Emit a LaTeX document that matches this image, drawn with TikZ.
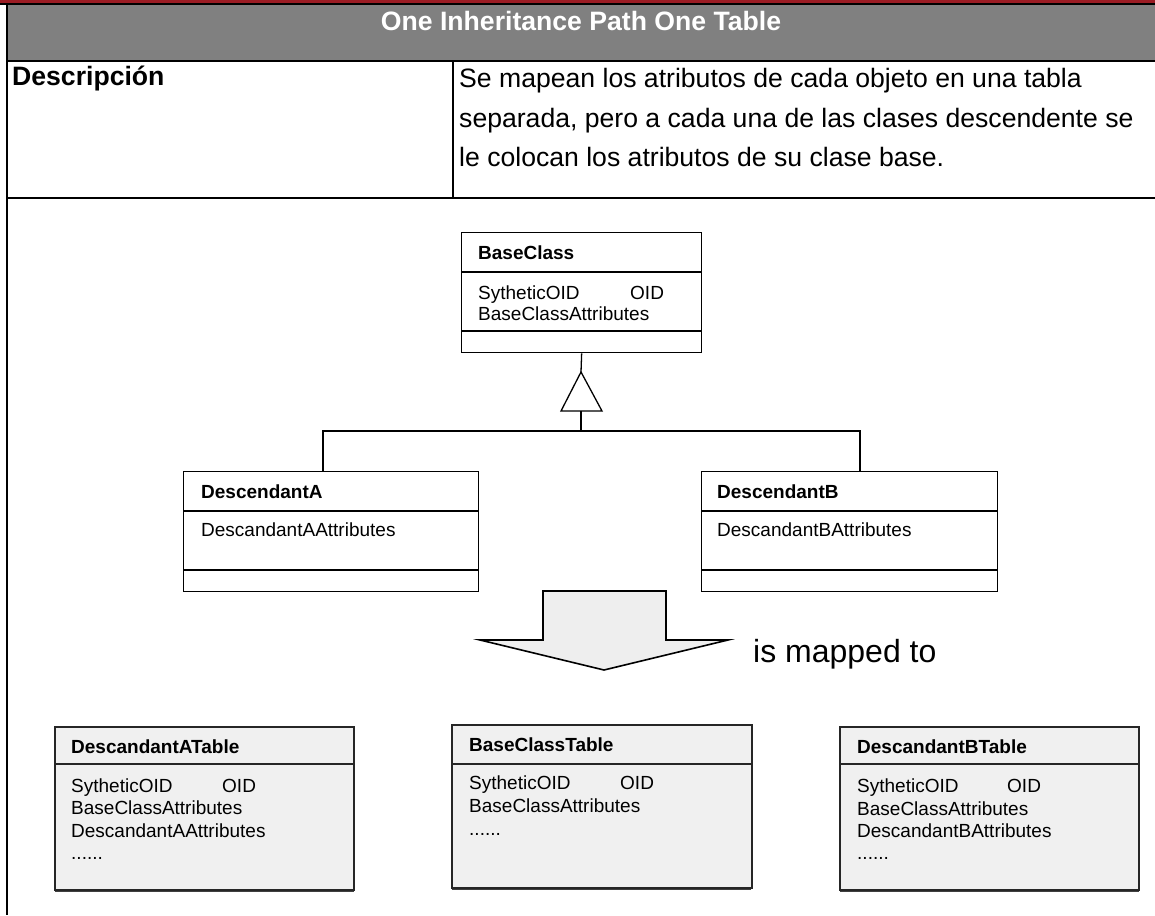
\documentclass[tikz,border=0pt]{standalone}
\usepackage{fontspec}
\setmainfont{Liberation Sans}
\definecolor{bandred}{HTML}{9B1C24}
\definecolor{headgray}{HTML}{808080}
\definecolor{tablegray}{HTML}{F0F0F0}
\definecolor{arrowgray}{HTML}{EEEEEE}
\begin{document}
\begin{tikzpicture}[x=1pt,y=-1pt,
  frame/.style={line width=2pt,black},
  umlbox/.style={draw=black,line width=1.3pt,fill=white,inner sep=0pt,anchor=north west},
  tablebox/.style={draw=black!85,line width=1.5pt,fill=tablegray,inner sep=0pt,anchor=north west},
  sep/.style={line width=1.3pt,black},
  link/.style={line width=1.3pt,black},
  lbl/.style={anchor=base west,inner sep=0pt,font=\fontsize{19}{22}\selectfont},
  hdr/.style={anchor=base west,inner sep=0pt,font=\fontsize{19}{22}\selectfont\bfseries},
  body/.style={anchor=base west,inner sep=0pt,font=\fontsize{26.6}{38}\selectfont}]
\useasboundingbox (0,0) rectangle (1155,915);

% ---- document table frame ----
\fill[bandred] (0,0) rectangle (1155,4.5);
\fill[headgray] (7,5) rectangle (1155,60);
\draw[frame] (0,4.5) -- (1155,4.5);
\draw[frame] (7,4.5) -- (7,915);
\draw[frame] (7,61) -- (1155,61);
\draw[frame] (7,198) -- (1155,198);
\draw[line width=1.6pt] (453,61) -- (453,198);

\node[anchor=base,inner sep=0pt,text=white,font=\fontsize{26.6}{30}\selectfont\bfseries] (title) at (581,31) {One Inheritance Path One Table};
\node[body,font=\fontsize{26.6}{38}\selectfont\bfseries] (desc) at (12,86) {Descripción};
\node[body] (d1) at (459,88) {Se mapean los atributos de cada objeto en una tabla};
\node[body] (d2) at (459,127) {separada, pero a cada una de las clases descendente se};
\node[body] (d3) at (459,166) {le colocan los atributos de su clase base.};

% ---- class diagram ----
\node[umlbox,minimum width=240,minimum height=120] (base) at (461,232) {};
\draw[sep] (461,272) -- (701,272);
\draw[sep] (461,331) -- (701,331);
\node[hdr] (baseT) at (478,259) {BaseClass};
\node[lbl] (baseA1) at (478,299) {SytheticOID};
\node[lbl] (baseA2) at (630,299) {OID};
\node[lbl] (baseA3) at (478,320) {BaseClassAttributes};

\node[umlbox,minimum width=295,minimum height=120] (descA) at (183,471) {};
\draw[sep] (183,511) -- (478,511);
\draw[sep] (183,570) -- (478,570);
\node[hdr] (descAT) at (201,498) {DescendantA};
\node[lbl] (descAA) at (201,536) {DescandantAAttributes};

\node[umlbox,minimum width=296,minimum height=120] (descB) at (701,471) {};
\draw[sep] (701,511) -- (997,511);
\draw[sep] (701,570) -- (997,570);
\node[hdr] (descBT) at (717,498) {DescendantB};
\node[lbl] (descBA) at (717,536) {DescandantBAttributes};

% generalisation: hollow triangle and joining lines
\coordinate (apex) at (581,372);
\coordinate (tbase) at (581,411);
\coordinate (bus) at (581,431);
\coordinate (ja) at (323,471);
\coordinate (jb) at (860,471);
\draw[link] (base.south) -- (apex);
\draw[link,fill=white,line join=miter] (apex) -- (561,411) -- (602,411) -- cycle;
\draw[link] (tbase) -- (bus);
\draw[link] (ja) |- (bus) -| (jb);

% ---- block arrow ----
\draw[line width=1.6pt,fill=arrowgray,line join=miter]
  (543,591) -- (666,591) -- (666,640) -- (728,640) -- (604,670)
  -- (480,640) -- (543,640) -- cycle;
\node[anchor=base west,inner sep=0pt,font=\fontsize{32}{36}\selectfont] (mapped) at (753,662) {is mapped to};

% ---- tables ----
\foreach \nm/\x/\y in {tA/54/726, tBase/451/724, tB/839/726}{
  \draw[line width=3pt,black!75] (\x+1,\y+164) -- (\x+300,\y+164);
}
\node[tablebox,minimum width=299,minimum height=163] (tA) at (54,726) {};
\draw[line width=1.5pt,black!85] (54,764) -- (353,764);
\node[hdr] (tAT) at (71,753) {DescandantATable};
\node[lbl] (tA1) at (71,792) {SytheticOID};
\node[lbl] (tA2) at (222,792) {OID};
\node[lbl] (tA3) at (71,814) {BaseClassAttributes};
\node[lbl] (tA4) at (71,837) {DescandantAAttributes};
\node[lbl] (tA5) at (71,859) {......};

\node[tablebox,minimum width=300,minimum height=163] (tBase) at (451,724) {};
\draw[line width=1.5pt,black!85] (451,764) -- (751,764);
\node[hdr] (tBaseT) at (469,751) {BaseClassTable};
\node[lbl] (tBase1) at (469,789) {SytheticOID};
\node[lbl] (tBase2) at (620,789) {OID};
\node[lbl] (tBase3) at (469,812) {BaseClassAttributes};
\node[lbl] (tBase4) at (469,835) {......};

\node[tablebox,minimum width=299,minimum height=163] (tB) at (839,726) {};
\draw[line width=1.5pt,black!85] (839,764) -- (1138,764);
\node[hdr] (tBT) at (857,753) {DescandantBTable};
\node[lbl] (tB1) at (857,792) {SytheticOID};
\node[lbl] (tB2) at (1007,792) {OID};
\node[lbl] (tB3) at (857,815) {BaseClassAttributes};
\node[lbl] (tB4) at (857,837) {DescandantBAttributes};
\node[lbl] (tB5) at (857,859) {......};
\end{tikzpicture}
\end{document}
